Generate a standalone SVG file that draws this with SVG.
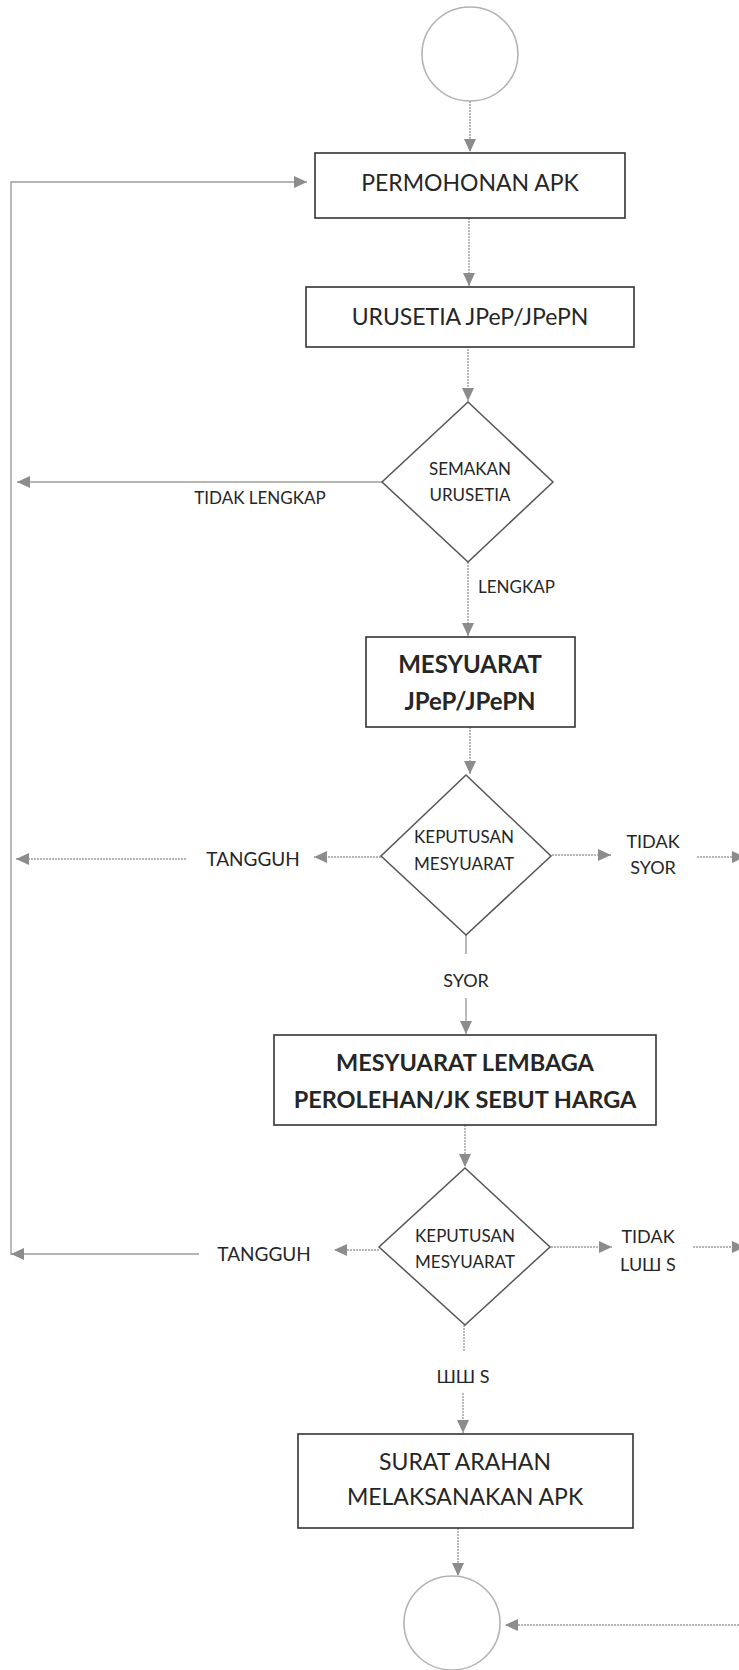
<svg xmlns="http://www.w3.org/2000/svg" width="739" height="1670" viewBox="0 0 739 1670">
<style>
  .box{fill:#fff;stroke:#333;stroke-width:1.6}
  .dia{fill:#fff;stroke:#555;stroke-width:1.5}
  .term{fill:#fff;stroke:#b3b3b3;stroke-width:1.6}
  .c{fill:none;stroke:#9c9c9c;stroke-width:1.4}
  .d{stroke-dasharray:2 1}
  text{font-family:Lato,"Noto Sans","DejaVu Sans",sans-serif;fill:#262626;text-anchor:middle}
  .t23{font-size:23px}
  .b24{font-size:24px;font-weight:bold}
  .b23{font-size:23.5px;font-weight:bold}
  .t17{font-size:17px}
  .t19{font-size:19px}
  .t18{font-size:18px}
</style>
<defs>
  <marker id="ah" markerUnits="userSpaceOnUse" markerWidth="14" markerHeight="12" refX="13" refY="6" orient="auto">
    <path d="M0,0 L13,6 L0,12 Z" fill="#8c8c8c"/>
  </marker>
</defs>

<g id="connectors">
  <path class="c d" d="M470,101 V152" marker-end="url(#ah)"/>
  <path class="c d" d="M469,218 V286" marker-end="url(#ah)"/>
  <path class="c d" d="M468,346 V401" marker-end="url(#ah)"/>
  <path class="c" d="M382,482 H17" marker-end="url(#ah)"/>
  <path class="c d" d="M468,562 V636" marker-end="url(#ah)"/>
  <path class="c d" d="M470,727 V774" marker-end="url(#ah)"/>
  <path class="c d" d="M381,857 H314" marker-end="url(#ah)"/>
  <path class="c d" d="M186,859 H16" marker-end="url(#ah)"/>
  <path class="c d" d="M552,855 H611" marker-end="url(#ah)"/>
  <path class="c d" d="M697,857 H745" marker-end="url(#ah)"/>
  <path class="c" d="M466,935 V954"/>
  <path class="c" d="M466,998 V1034" marker-end="url(#ah)"/>
  <path class="c d" d="M465,1125 V1167" marker-end="url(#ah)"/>
  <path class="c d" d="M379,1250 H334" marker-end="url(#ah)"/>
  <path class="c" d="M199,1254 H11" marker-end="url(#ah)"/>
  <path class="c d" d="M551,1247 H612" marker-end="url(#ah)"/>
  <path class="c d" d="M693,1247 H745" marker-end="url(#ah)"/>
  <path class="c d" d="M464,1325 V1352"/>
  <path class="c d" d="M463,1393 V1433" marker-end="url(#ah)"/>
  <path class="c d" d="M458,1528 V1576" marker-end="url(#ah)"/>
  <path class="c d" d="M745,1625 H505" marker-end="url(#ah)"/>
  <path class="c" d="M11,1255 V182 H307" marker-end="url(#ah)"/>
</g>

<g id="start">
  <ellipse class="term" cx="470" cy="54" rx="48" ry="47"/>
</g>

<g id="permohonan">
  <rect class="box" x="315" y="153" width="310" height="65"/>
  <text class="t23" x="470" y="191">PERMOHONAN APK</text>
</g>

<g id="urusetia">
  <rect class="box" x="306" y="287" width="328" height="60"/>
  <text class="t23" x="470" y="325">URUSETIA JPeP/JPePN</text>
</g>

<g id="semakan">
  <polygon class="dia" points="468,402 553,482 468,562 382,482"/>
  <text class="t17" x="470" y="475">SEMAKAN</text>
  <text class="t17" x="470" y="501">URUSETIA</text>
</g>

<g id="lbl-tidak-lengkap">
  <text class="t17" x="260" y="504">TIDAK LENGKAP</text>
</g>
<g id="lbl-lengkap">
  <text class="t17" x="478" y="593" style="text-anchor:start">LENGKAP</text>
</g>

<g id="mesyuarat-jpep">
  <rect class="box" x="366" y="637" width="209" height="90"/>
  <text class="b24" x="470" y="673">MESYUARAT</text>
  <text class="b24" x="470" y="710">JPeP/JPePN</text>
</g>

<g id="keputusan1">
  <polygon class="dia" points="466,775 551,856 466,935 381,856"/>
  <text class="t17" x="464" y="843">KEPUTUSAN</text>
  <text class="t17" x="464" y="870">MESYUARAT</text>
</g>

<g id="lbl-tangguh1">
  <text class="t19" x="253" y="866">TANGGUH</text>
</g>
<g id="lbl-tidak-syor">
  <text class="t18" x="653" y="848">TIDAK</text>
  <text class="t18" x="653" y="874">SYOR</text>
</g>
<g id="lbl-syor">
  <text class="t18" x="466" y="987">SYOR</text>
</g>

<g id="mesyuarat-lembaga">
  <rect class="box" x="274" y="1035" width="382" height="90"/>
  <text class="b23" x="465" y="1071">MESYUARAT LEMBAGA</text>
  <text class="b23" x="465" y="1108">PEROLEHAN/JK SEBUT HARGA</text>
</g>

<g id="keputusan2">
  <polygon class="dia" points="465,1168 550,1247 465,1325 379,1247"/>
  <text class="t17" x="465" y="1242">KEPUTUSAN</text>
  <text class="t17" x="465" y="1268">MESYUARAT</text>
</g>

<g id="lbl-tangguh2">
  <text class="t19" x="264" y="1261">TANGGUH</text>
</g>
<g id="lbl-tidak-lulus">
  <text class="t18" x="648" y="1243">TIDAK</text>
  <text class="t18" x="648" y="1271">LUШ S</text>
</g>
<g id="lbl-lulus">
  <text class="t18" x="463" y="1383">ШШ S</text>
</g>

<g id="surat-arahan">
  <rect class="box" x="298" y="1434" width="335" height="94"/>
  <text class="t23" x="465" y="1470">SURAT ARAHAN</text>
  <text class="t23" x="465" y="1505">MELAKSANAKAN APK</text>
</g>

<g id="end">
  <ellipse class="term" cx="452" cy="1623" rx="48" ry="47"/>
</g>
</svg>
